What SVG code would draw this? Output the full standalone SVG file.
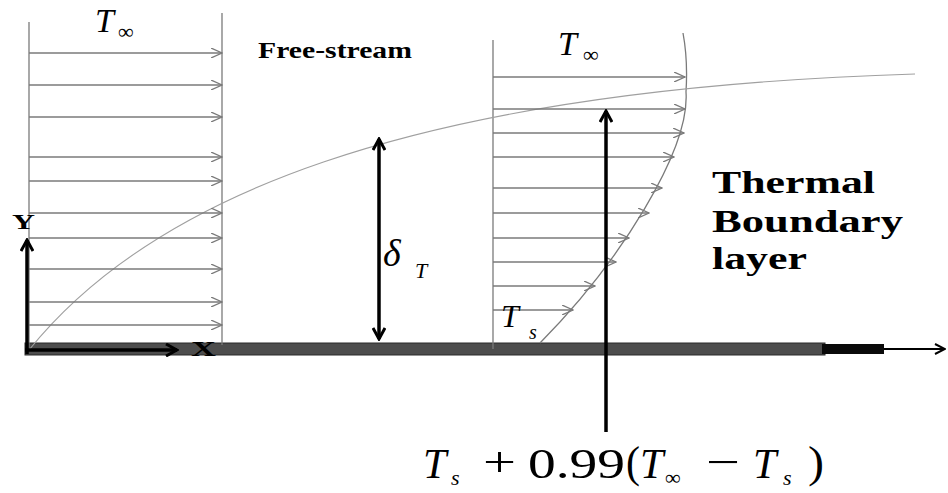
<svg xmlns="http://www.w3.org/2000/svg" width="948" height="493" viewBox="0 0 948 493">
<defs>
<style>
.thin{stroke:#7a7a7a;stroke-width:1.3;fill:none}
.prof{stroke:#7a7a7a;stroke-width:1.3;fill:none;marker-end:url(#open)}
.curve{stroke:#a0a0a0;stroke-width:1.1;fill:none}
.bold{stroke:#000;stroke-width:3.5;fill:none}
.it{font-family:"Liberation Serif","Times New Roman",serif;font-style:italic;fill:#000}
.rm{font-family:"Liberation Serif","Times New Roman",serif;fill:#000}
.bd{font-family:"Liberation Serif","Times New Roman",serif;font-weight:bold;fill:#000}
</style>
<marker id="open" viewBox="0 0 12 10" refX="11" refY="5" markerWidth="12" markerHeight="10" markerUnits="userSpaceOnUse" orient="auto">
<path d="M0,0 L11,5 L0,10" fill="none" stroke="#7a7a7a" stroke-width="1.3"/>
</marker>
<marker id="solid" viewBox="0 0 14 14" refX="12" refY="7" markerWidth="14" markerHeight="14" markerUnits="userSpaceOnUse" orient="auto">
<path d="M1,1 L12,7 L1,13" fill="none" stroke="#000" stroke-width="3"/>
</marker>
<marker id="solidStart" viewBox="0 0 14 14" refX="2" refY="7" markerWidth="14" markerHeight="14" markerUnits="userSpaceOnUse" orient="auto">
<path d="M13,1 L2,7 L13,13" fill="none" stroke="#000" stroke-width="3"/>
</marker>
<marker id="thinEnd" viewBox="0 0 12 12" refX="11" refY="6" markerWidth="12" markerHeight="12" markerUnits="userSpaceOnUse" orient="auto">
<path d="M1,1 L11,6 L1,11" fill="none" stroke="#000" stroke-width="2"/>
</marker>
</defs>
<rect width="948" height="493" fill="#fff"/>

<g id="plate">
<rect x="25" y="343" width="800" height="12" fill="#4d4d4d" stroke="#2a2a2a" stroke-width="1"/>
<rect x="822" y="344" width="62" height="10" fill="#0a0a0a"/>
</g>

<g id="left-profile">
<line class="thin" x1="29" y1="22" x2="29" y2="350"/>
<line class="thin" x1="222" y1="13" x2="222" y2="345"/>
</g>

<g id="right-profile">
<line class="thin" x1="493" y1="40" x2="493" y2="349"/>
<path class="thin" d="M540,343 C620,262 690,150 686,92 Q688,60 683,33"/>
</g>

<g id="boundary-layer-edge">
<path class="curve" d="M29,350 C150,200 400,90 915,74"/>
</g>

<g id="connectors">
<g id="left-arrows">
<line class="prof" x1="29" y1="53" x2="222" y2="53"/>
<line class="prof" x1="29" y1="85" x2="222" y2="85"/>
<line class="prof" x1="29" y1="117" x2="222" y2="117"/>
<line class="prof" x1="29" y1="157" x2="222" y2="157"/>
<line class="prof" x1="29" y1="181" x2="222" y2="181"/>
<line class="prof" x1="29" y1="213" x2="222" y2="213"/>
<line class="prof" x1="29" y1="238" x2="222" y2="238"/>
<line class="prof" x1="29" y1="269" x2="222" y2="269"/>
<line class="prof" x1="29" y1="302" x2="222" y2="302"/>
<line class="prof" x1="29" y1="325" x2="222" y2="325"/>
</g>
<g id="right-arrows">
<line class="prof" x1="493" y1="77" x2="685" y2="77"/>
<line class="prof" x1="493" y1="109" x2="685" y2="109"/>
<line class="prof" x1="493" y1="133" x2="684" y2="133"/>
<line class="prof" x1="493" y1="157" x2="674" y2="157"/>
<line class="prof" x1="493" y1="188" x2="662" y2="188"/>
<line class="prof" x1="493" y1="213" x2="649" y2="213"/>
<line class="prof" x1="493" y1="238" x2="629" y2="238"/>
<line class="prof" x1="493" y1="262" x2="616" y2="262"/>
<line class="prof" x1="493" y1="286" x2="595" y2="286"/>
<line class="prof" x1="493" y1="310" x2="573" y2="310"/>
</g>
<line id="y-axis" class="bold" x1="27" y1="354" x2="27" y2="240" marker-end="url(#solid)"/>
<line id="x-axis" class="bold" x1="25" y1="350" x2="177" y2="350" marker-end="url(#solid)"/>
<line id="plate-axis" x1="884" y1="349" x2="945" y2="349" stroke="#000" stroke-width="2" marker-end="url(#thinEnd)"/>
<line id="delta-arrow" class="bold" stroke-width="3" x1="379" y1="139" x2="379" y2="339" marker-start="url(#solidStart)" marker-end="url(#solid)"/>
<line id="pointer" class="bold" stroke-width="3" x1="606" y1="432" x2="606" y2="111" marker-end="url(#solid)"/>
</g>

<g id="label-tinf-left">
<text class="it" x="95" y="32" font-size="34">T</text>
<text class="rm" x="118" y="39" font-size="22">∞</text>
</g>
<g id="label-tinf-right">
<text class="it" x="558" y="55" font-size="34">T</text>
<text class="rm" x="583" y="62" font-size="22">∞</text>
</g>
<g id="label-freestream">
<text class="bd" x="258" y="58" font-size="23" textLength="154" lengthAdjust="spacingAndGlyphs">Free-stream</text>
</g>
<g id="label-thermal">
<text class="bd" x="712" y="193" font-size="31" textLength="163" lengthAdjust="spacingAndGlyphs">Thermal</text>
<text class="bd" x="712" y="232" font-size="31" textLength="191" lengthAdjust="spacingAndGlyphs">Boundary</text>
<text class="bd" x="712" y="269" font-size="31" textLength="95" lengthAdjust="spacingAndGlyphs">layer</text>
</g>
<g id="label-delta">
<text class="it" x="383" y="266" font-size="38">δ</text>
<text class="it" x="415" y="278" font-size="22">T</text>
</g>
<g id="label-ts">
<text class="it" x="501" y="327" font-size="32">T</text>
<text class="it" x="529" y="339" font-size="20">s</text>
</g>
<g id="label-y">
<text class="bd" x="12" y="229" font-size="22" textLength="23" lengthAdjust="spacingAndGlyphs">Y</text>
</g>
<g id="label-x">
<text class="bd" x="191" y="356" font-size="22" textLength="25" lengthAdjust="spacingAndGlyphs">X</text>
</g>
<g id="label-formula">
<text class="it" x="423" y="478" font-size="42">T</text>
<text class="it" x="451" y="485" font-size="22">s</text>
<text class="rm" x="483" y="476" font-size="42" textLength="33" lengthAdjust="spacingAndGlyphs">+</text>
<text class="rm" x="528" y="478" font-size="42" textLength="97" lengthAdjust="spacingAndGlyphs">0.99</text>
<text class="rm" x="626" y="477" font-size="44" textLength="14" lengthAdjust="spacingAndGlyphs">(</text>
<text class="it" x="640" y="478" font-size="42">T</text>
<text class="rm" x="665" y="485" font-size="22">∞</text>
<text class="rm" x="706" y="476" font-size="42" textLength="34" lengthAdjust="spacingAndGlyphs">−</text>
<text class="it" x="753" y="478" font-size="42">T</text>
<text class="it" x="783" y="485" font-size="22">s</text>
<text class="rm" x="808" y="477" font-size="44" textLength="16" lengthAdjust="spacingAndGlyphs">)</text>
</g>
</svg>
